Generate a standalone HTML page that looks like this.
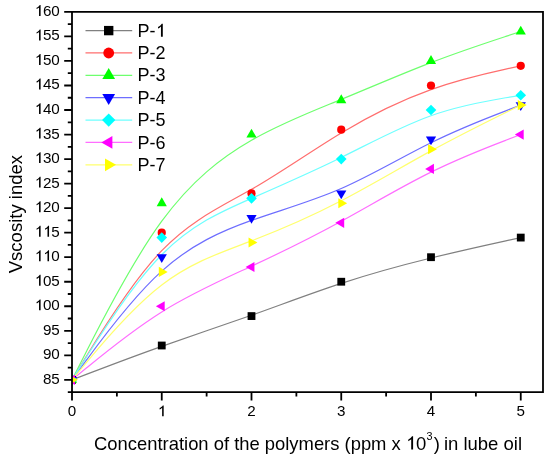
<!DOCTYPE html>
<html><head><meta charset="utf-8"><style>
html,body{margin:0;padding:0;background:#fff;}
body{width:550px;height:462px;overflow:hidden;}
svg{display:block;will-change:transform;}
text{font-family:"Liberation Sans",sans-serif;fill:#000;}
</style></head><body>
<svg width="550" height="462" viewBox="0 0 550 462">
<defs><path id="one" d="M830 0H620V1147Q575 1085 470 1023Q365 961 288 930V1104Q439 1175 552 1276Q665 1377 712 1466H830Z"/><clipPath id="pa"><rect x="72" y="11.9" width="471" height="380.3"/></clipPath></defs>

<g clip-path="url(#pa)" fill="none" stroke-width="1.2">
<path d="M72 379.85C72 379.85 72 379.85 86.96 374.13C101.92 368.4 131.83 356.96 161.75 346.33C191.67 335.7 221.58 325.88 251.5 315.25C281.42 304.62 311.33 293.18 341.25 283.37C371.17 273.55 401.08 265.38 431 258.02C460.92 250.66 490.83 244.12 505.79 240.85C520.75 237.58 520.75 237.58 520.75 237.58" stroke="#808080"/>
<path d="M72 379.85C72 379.85 72 379.85 86.96 355.32C101.92 330.79 131.83 281.73 161.75 250.66C191.67 219.59 221.58 206.5 251.5 189.33C281.42 172.16 311.33 150.9 341.25 132.91C371.17 114.93 401.08 100.21 431 89.58C460.92 78.95 490.83 72.41 505.79 69.14C520.75 65.87 520.75 65.87 520.75 65.87" stroke="#ff6e6e"/>
<path d="M72 379.85C72 379.85 72 379.85 86.96 350.41C101.92 320.98 131.83 262.11 161.75 221.22C191.67 180.34 221.58 157.44 251.5 140.27C281.42 123.1 311.33 111.66 341.25 99.39C371.17 87.13 401.08 74.04 431 62.6C460.92 51.15 490.83 41.34 505.79 36.43C520.75 31.52 520.75 31.52 520.75 31.52" stroke="#6eff6e"/>
<path d="M72 379.85C72 379.85 72 379.85 86.96 359.41C101.92 338.97 131.83 298.08 161.75 271.1C191.67 244.12 221.58 231.03 251.5 220.41C281.42 209.78 311.33 201.6 341.25 188.52C371.17 175.43 401.08 157.44 431 142.73C460.92 128.01 490.83 116.56 505.79 110.84C520.75 105.11 520.75 105.11 520.75 105.11" stroke="#6e6eff"/>
<path d="M72 379.85C72 379.85 72 379.85 86.96 356.14C101.92 332.43 131.83 285 161.75 254.75C191.67 224.49 221.58 211.41 251.5 198.33C281.42 185.25 311.33 172.16 341.25 157.44C371.17 142.73 401.08 126.37 431 115.74C460.92 105.11 490.83 100.21 505.79 97.75C520.75 95.3 520.75 95.3 520.75 95.3" stroke="#6effff"/>
<path d="M72 379.85C72 379.85 72 379.85 86.96 367.58C101.92 355.32 131.83 330.79 161.75 311.98C191.67 293.18 221.58 280.09 251.5 266.19C281.42 252.29 311.33 237.58 341.25 221.22C371.17 204.87 401.08 186.88 431 172.16C460.92 157.44 490.83 146 505.79 140.27C520.75 134.55 520.75 134.55 520.75 134.55" stroke="#ff6eff"/>
<path d="M72 379.85C72 379.85 72 379.85 86.96 361.86C101.92 343.87 131.83 307.9 161.75 285C191.67 262.11 221.58 252.29 251.5 240.85C281.42 229.4 311.33 216.32 341.25 200.78C371.17 185.25 401.08 167.26 431 150.9C460.92 134.55 490.83 119.83 505.79 112.47C520.75 105.11 520.75 105.11 520.75 105.11" stroke="#ffff6e"/>
</g>
<g clip-path="url(#pa)">
<rect x="68.1" y="375.95" width="7.8" height="7.8" fill="#000000"/>
<rect x="157.85" y="341.61" width="7.8" height="7.8" fill="#000000"/>
<rect x="247.6" y="312.17" width="7.8" height="7.8" fill="#000000"/>
<rect x="337.35" y="277.83" width="7.8" height="7.8" fill="#000000"/>
<rect x="427.1" y="253.3" width="7.8" height="7.8" fill="#000000"/>
<rect x="516.85" y="233.68" width="7.8" height="7.8" fill="#000000"/>
<circle cx="72" cy="379.85" r="4.1" fill="#ff0000"/>
<circle cx="161.75" cy="232.67" r="4.1" fill="#ff0000"/>
<circle cx="251.5" cy="193.42" r="4.1" fill="#ff0000"/>
<circle cx="341.25" cy="129.64" r="4.1" fill="#ff0000"/>
<circle cx="431" cy="85.49" r="4.1" fill="#ff0000"/>
<circle cx="520.75" cy="65.87" r="4.1" fill="#ff0000"/>
<polygon points="72,373.96 77.1,382.79 66.9,382.79" fill="#00ff00"/>
<polygon points="161.75,197.35 166.85,206.18 156.65,206.18" fill="#00ff00"/>
<polygon points="251.5,128.66 256.6,137.49 246.4,137.49" fill="#00ff00"/>
<polygon points="341.25,94.32 346.35,103.15 336.15,103.15" fill="#00ff00"/>
<polygon points="431,55.07 436.1,63.9 425.9,63.9" fill="#00ff00"/>
<polygon points="520.75,25.64 525.85,34.47 515.65,34.47" fill="#00ff00"/>
<polygon points="72,385.74 77.1,376.91 66.9,376.91" fill="#0000ff"/>
<polygon points="161.75,263.09 166.85,254.26 156.65,254.26" fill="#0000ff"/>
<polygon points="251.5,223.84 256.6,215.01 246.4,215.01" fill="#0000ff"/>
<polygon points="341.25,199.31 346.35,190.48 336.15,190.48" fill="#0000ff"/>
<polygon points="431,145.34 436.1,136.51 425.9,136.51" fill="#0000ff"/>
<polygon points="520.75,111 525.85,102.17 515.65,102.17" fill="#0000ff"/>
<polygon points="72,374.55 77.3,379.85 72,385.15 66.7,379.85" fill="#00ffff"/>
<polygon points="161.75,232.28 167.05,237.58 161.75,242.88 156.45,237.58" fill="#00ffff"/>
<polygon points="251.5,193.03 256.8,198.33 251.5,203.63 246.2,198.33" fill="#00ffff"/>
<polygon points="341.25,153.78 346.55,159.08 341.25,164.38 335.95,159.08" fill="#00ffff"/>
<polygon points="431,104.72 436.3,110.02 431,115.32 425.7,110.02" fill="#00ffff"/>
<polygon points="520.75,90 526.05,95.3 520.75,100.6 515.45,95.3" fill="#00ffff"/>
<polygon points="66.11,379.85 74.94,374.75 74.94,384.95" fill="#ff00ff"/>
<polygon points="155.86,306.26 164.69,301.16 164.69,311.36" fill="#ff00ff"/>
<polygon points="245.61,267.01 254.44,261.91 254.44,272.11" fill="#ff00ff"/>
<polygon points="335.36,222.86 344.19,217.76 344.19,227.96" fill="#ff00ff"/>
<polygon points="425.11,168.89 433.94,163.79 433.94,173.99" fill="#ff00ff"/>
<polygon points="514.86,134.55 523.69,129.45 523.69,139.65" fill="#ff00ff"/>
<polygon points="77.89,379.85 69.06,374.75 69.06,384.95" fill="#ffff00"/>
<polygon points="167.64,271.92 158.81,266.82 158.81,277.02" fill="#ffff00"/>
<polygon points="257.39,242.48 248.56,237.38 248.56,247.58" fill="#ffff00"/>
<polygon points="347.14,203.23 338.31,198.13 338.31,208.33" fill="#ffff00"/>
<polygon points="436.89,149.27 428.06,144.17 428.06,154.37" fill="#ffff00"/>
<polygon points="526.64,105.11 517.81,100.01 517.81,110.21" fill="#ffff00"/>
</g>
<g>
<line x1="85.5" y1="30.6" x2="132.2" y2="30.6" stroke="#808080" stroke-width="1.2"/>
<rect x="104.02" y="25.92" width="9.36" height="9.36" fill="#000000"/>
<text x="137.5" y="36.7" font-size="18">P-</text>
<use href="#one" transform="translate(155.5 36.7) scale(0.008789 -0.008789)"/>
<line x1="85.5" y1="52.97" x2="132.2" y2="52.97" stroke="#ff6e6e" stroke-width="1.2"/>
<circle cx="108.7" cy="52.97" r="5.41" fill="#ff0000"/>
<text x="137.5" y="59.07" font-size="18">P-</text>
<text x="155.5" y="59.07" font-size="18">2</text>
<line x1="85.5" y1="75.34" x2="132.2" y2="75.34" stroke="#6eff6e" stroke-width="1.2"/>
<polygon points="108.7,67.98 115.07,79.02 102.33,79.02" fill="#00ff00"/>
<text x="137.5" y="81.44" font-size="18">P-</text>
<text x="155.5" y="81.44" font-size="18">3</text>
<line x1="85.5" y1="97.71" x2="132.2" y2="97.71" stroke="#6e6eff" stroke-width="1.2"/>
<polygon points="108.7,105.07 115.07,94.03 102.33,94.03" fill="#0000ff"/>
<text x="137.5" y="103.81" font-size="18">P-</text>
<text x="155.5" y="103.81" font-size="18">4</text>
<line x1="85.5" y1="120.08" x2="132.2" y2="120.08" stroke="#6effff" stroke-width="1.2"/>
<polygon points="108.7,113.46 115.33,120.08 108.7,126.71 102.08,120.08" fill="#00ffff"/>
<text x="137.5" y="126.18" font-size="18">P-</text>
<text x="155.5" y="126.18" font-size="18">5</text>
<line x1="85.5" y1="142.45" x2="132.2" y2="142.45" stroke="#ff6eff" stroke-width="1.2"/>
<polygon points="101.34,142.45 112.38,136.08 112.38,148.82" fill="#ff00ff"/>
<text x="137.5" y="148.55" font-size="18">P-</text>
<text x="155.5" y="148.55" font-size="18">6</text>
<line x1="85.5" y1="164.82" x2="132.2" y2="164.82" stroke="#ffff6e" stroke-width="1.2"/>
<polygon points="116.06,164.82 105.02,158.45 105.02,171.19" fill="#ffff00"/>
<text x="137.5" y="170.92" font-size="18">P-</text>
<text x="155.5" y="170.92" font-size="18">7</text>
</g>
<path d="M72 11.9H543V392.2H72ZM67.8 392.11H72M64.2 379.85H72M67.8 367.58H72M64.2 355.32H72M67.8 343.05H72M64.2 330.79H72M67.8 318.52H72M64.2 306.26H72M67.8 293.99H72M64.2 281.73H72M67.8 269.46H72M64.2 257.2H72M67.8 244.94H72M64.2 232.67H72M67.8 220.41H72M64.2 208.14H72M67.8 195.88H72M64.2 183.61H72M67.8 171.34H72M64.2 159.08H72M67.8 146.81H72M64.2 134.55H72M67.8 122.28H72M64.2 110.02H72M67.8 97.75H72M64.2 85.49H72M67.8 73.22H72M64.2 60.96H72M67.8 48.69H72M64.2 36.43H72M67.8 24.16H72M64.2 11.9H72M72 392.2V400.4M116.88 392.2V396.4M161.75 392.2V400.4M206.62 392.2V396.4M251.5 392.2V400.4M296.38 392.2V396.4M341.25 392.2V400.4M386.12 392.2V396.4M431 392.2V400.4M475.88 392.2V396.4M520.75 392.2V400.4" fill="none" stroke="#000" stroke-width="1.8" stroke-linecap="butt"/>
<text x="42.89" y="383.85" font-size="15.2">8</text><text x="51.35" y="383.85" font-size="15.2">5</text>
<text x="42.89" y="359.32" font-size="15.2">9</text><text x="51.35" y="359.32" font-size="15.2">0</text>
<text x="42.89" y="334.79" font-size="15.2">9</text><text x="51.35" y="334.79" font-size="15.2">5</text>
<use href="#one" transform="translate(34.44 310.26) scale(0.007422 -0.007422)"/><text x="42.89" y="310.26" font-size="15.2">0</text><text x="51.35" y="310.26" font-size="15.2">0</text>
<use href="#one" transform="translate(34.44 285.73) scale(0.007422 -0.007422)"/><text x="42.89" y="285.73" font-size="15.2">0</text><text x="51.35" y="285.73" font-size="15.2">5</text>
<use href="#one" transform="translate(34.44 261.2) scale(0.007422 -0.007422)"/><use href="#one" transform="translate(42.89 261.2) scale(0.007422 -0.007422)"/><text x="51.35" y="261.2" font-size="15.2">0</text>
<use href="#one" transform="translate(34.44 236.67) scale(0.007422 -0.007422)"/><use href="#one" transform="translate(42.89 236.67) scale(0.007422 -0.007422)"/><text x="51.35" y="236.67" font-size="15.2">5</text>
<use href="#one" transform="translate(34.44 212.14) scale(0.007422 -0.007422)"/><text x="42.89" y="212.14" font-size="15.2">2</text><text x="51.35" y="212.14" font-size="15.2">0</text>
<use href="#one" transform="translate(34.44 187.61) scale(0.007422 -0.007422)"/><text x="42.89" y="187.61" font-size="15.2">2</text><text x="51.35" y="187.61" font-size="15.2">5</text>
<use href="#one" transform="translate(34.44 163.08) scale(0.007422 -0.007422)"/><text x="42.89" y="163.08" font-size="15.2">3</text><text x="51.35" y="163.08" font-size="15.2">0</text>
<use href="#one" transform="translate(34.44 138.55) scale(0.007422 -0.007422)"/><text x="42.89" y="138.55" font-size="15.2">3</text><text x="51.35" y="138.55" font-size="15.2">5</text>
<use href="#one" transform="translate(34.44 114.02) scale(0.007422 -0.007422)"/><text x="42.89" y="114.02" font-size="15.2">4</text><text x="51.35" y="114.02" font-size="15.2">0</text>
<use href="#one" transform="translate(34.44 89.49) scale(0.007422 -0.007422)"/><text x="42.89" y="89.49" font-size="15.2">4</text><text x="51.35" y="89.49" font-size="15.2">5</text>
<use href="#one" transform="translate(34.44 64.96) scale(0.007422 -0.007422)"/><text x="42.89" y="64.96" font-size="15.2">5</text><text x="51.35" y="64.96" font-size="15.2">0</text>
<use href="#one" transform="translate(34.44 40.43) scale(0.007422 -0.007422)"/><text x="42.89" y="40.43" font-size="15.2">5</text><text x="51.35" y="40.43" font-size="15.2">5</text>
<use href="#one" transform="translate(34.44 15.9) scale(0.007422 -0.007422)"/><text x="42.89" y="15.9" font-size="15.2">6</text><text x="51.35" y="15.9" font-size="15.2">0</text>
<text x="67.77" y="416.3" font-size="15.2">0</text>
<use href="#one" transform="translate(157.52 416.3) scale(0.007422 -0.007422)"/>
<text x="247.27" y="416.3" font-size="15.2">2</text>
<text x="337.02" y="416.3" font-size="15.2">3</text>
<text x="426.77" y="416.3" font-size="15.2">4</text>
<text x="516.52" y="416.3" font-size="15.2">5</text>
<text transform="translate(21.5 214.1) rotate(-90)" font-size="18.5" text-anchor="middle">Vscosity index</text>
<text x="94.1" y="449.6" font-size="18.4">Concentration of the polymers (ppm x </text>
<use href="#one" transform="translate(405.6 449.6) scale(0.009033 -0.009033)"/><text x="415.89" y="449.6" font-size="18.5">0</text>
<text x="426.6" y="439.6" font-size="10.8">3</text>
<text x="433.7" y="449.6" font-size="18.5">)</text>
<text x="443.9" y="449.6" font-size="18.5">in lube oil</text>
</svg>
</body></html>
